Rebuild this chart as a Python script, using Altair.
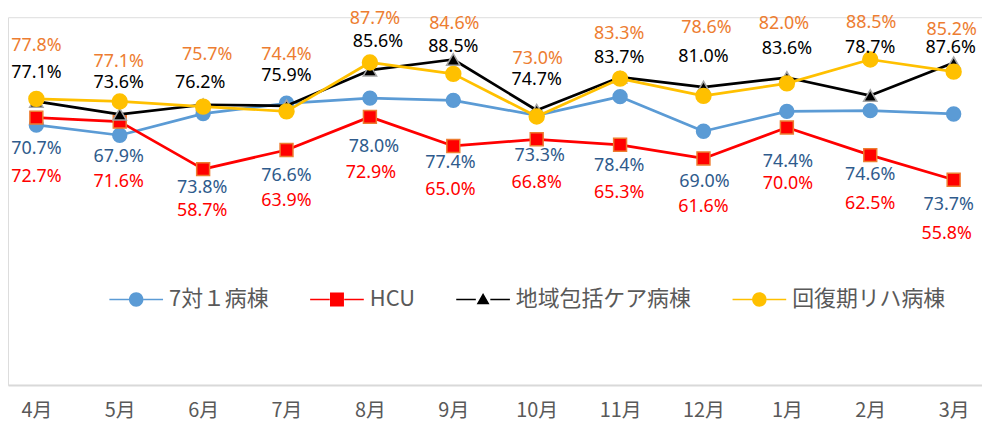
import json
import altair as alt
import pandas as pd

months = ["4月", "5月", "6月", "7月", "8月", "9月", "10月", "11月", "12月", "1月", "2月", "3月"]
series = ["7対１病棟", "HCU", "地域包括ケア病棟", "回復期リハ病棟"]

v_7to1 = [70.7, 67.9, 73.8, 76.6, 78.0, 77.4, 73.3, 78.4, 69.0, 74.4, 74.6, 73.7]
v_hcu = [72.7, 71.6, 58.7, 63.9, 72.9, 65.0, 66.8, 65.3, 61.6, 70.0, 62.5, 55.8]
v_chiiki = [77.1, 73.6, 76.2, 75.9, 85.6, 88.5, 74.7, 83.7, 81.0, 83.6, 78.7, 87.6]
v_kaifuku = [77.8, 77.1, 75.7, 74.4, 87.7, 84.6, 73.0, 83.3, 78.6, 82.0, 88.5, 85.2]
values = [v_7to1, v_hcu, v_chiiki, v_kaifuku]

# data-label offsets from each marker (pixels), as placed in the original
dy_7to1 = [24, 22, 75, 73, 49, 63, 41, 70, 51, 51, 65, 92]
dx_7to1 = [0, -1, -1, 0, 4, -3, 3, -1, 1, 1, 0, -5]
dy_hcu = [60, 61, 42, 51, 56, 44, 44, 48, 49, 57, 49, 55]
dx_hcu = [0, -1, -1, 0, 1, -3, 0, -1, 0, 1, 0, -7]
dy_chiiki = [-29, -31, -22, -30, -28, -13, -30, -19, -30, -29, -48, -15]
dx_chiiki = [0, -1, -3, 0, 8, 0, 0, -1, 0, 0, 0, -3]
dy_kaifuku = [-53, -40, -52, -57, -44, -50, -58, -45, -68, -60, -37, -42]
dx_kaifuku = [0, -1, 4, 0, 5, 1, 1, -1, 3, -3, 1, -2]
dys = [dy_7to1, dy_hcu, dy_chiiki, dy_kaifuku]
dxs = [dx_7to1, dx_hcu, dx_chiiki, dx_kaifuku]

line_colors = ["#5B9BD5", "#FF0000", "#000000", "#FFC000"]
label_colors = ["#2F5B8C", "#FF0000", "#000000", "#ED7D31"]
marker_shapes = ["circle", "square", "triangle-up", "circle"]
marker_sizes = [196, 169, 180, 225]
marker_strokes = ["#5B9BD5", "#ED7D31", "#A5A5A5", "#FFC000"]

# legend symbols: line segment plus marker
seg = "M-1,-0.03 L-0.27,-0.03 L-0.27,0.03 L-1,0.03 Z M0.27,-0.03 L1,-0.03 L1,0.03 L0.27,0.03 Z "
legend_paths = [
    seg + "M0.27,0 A0.27,0.27 0 1,1 -0.27,0 A0.27,0.27 0 1,1 0.27,0 Z",
    seg + "M-0.26,-0.26 L0.26,-0.26 L0.26,0.26 L-0.26,0.26 Z",
    seg + "M0,-0.24 L0.24,0.18 L-0.24,0.18 Z",
    seg + "M0.27,0 A0.27,0.27 0 1,1 -0.27,0 A0.27,0.27 0 1,1 0.27,0 Z",
]

W, H = 980, 370
X_DOMAIN = [-0.34, 11.34]
Y_DOMAIN = [0, 100]
px_per_x = W / (X_DOMAIN[1] - X_DOMAIN[0])
px_per_y = H / (Y_DOMAIN[1] - Y_DOMAIN[0])

rows = []
for s, vals, dy, dx in zip(series, values, dys, dxs):
    for i, (m, v, oy, ox) in enumerate(zip(months, vals, dy, dx)):
        rows.append({"series": s, "month": m, "idx": i, "value": v, "dy": oy, "dx": ox})
df = pd.DataFrame(rows)

font_jp = "Noto Sans CJK JP"

x_axis = alt.Axis(
    title=None, values=list(range(len(months))), labelAngle=0, ticks=False, grid=False,
    labelExpr=json.dumps(months, ensure_ascii=False) + "[datum.value]",
    labelFont=font_jp, labelFontSize=20, labelColor="#595959",
    labelPadding=16, domainColor="#D9D9D9", domainWidth=2,
)
x_scale = alt.Scale(domain=X_DOMAIN, nice=False, zero=False)
y_scale = alt.Scale(domain=Y_DOMAIN, nice=False)

x_enc = alt.X("idx:Q", scale=x_scale, axis=x_axis)
y_enc = alt.Y("value:Q", scale=y_scale, axis=None)

base = alt.Chart(df)
layers = []
for i, s in enumerate(series):
    sub = base.transform_filter(alt.datum.series == s)
    layers.append(
        sub.mark_line(color=line_colors[i], strokeWidth=2.75, strokeJoin="round", strokeCap="round")
        .encode(x=x_enc, y=y_enc)
    )
    layers.append(
        sub.mark_point(
            shape=marker_shapes[i], size=marker_sizes[i], filled=True,
            fill=line_colors[i], stroke=marker_strokes[i], strokeWidth=1.5, opacity=1,
        ).encode(x=x_enc, y=y_enc)
    )

for i, s in enumerate(series):
    sub = base.transform_filter(alt.datum.series == s).transform_calculate(
        label="format(datum.value, '.1f') + '%'",
        lx=f"datum.idx + datum.dx / {px_per_x}",
        ly=f"datum.value - datum.dy / {px_per_y}",
    )
    layers.append(
        sub.mark_text(font="Noto Sans", fontSize=18, color=label_colors[i], baseline="middle", align="center")
        .encode(
            x=alt.X("lx:Q", scale=x_scale, axis=x_axis),
            y=alt.Y("ly:Q", scale=y_scale, axis=None),
            text="label:N",
        )
    )

legend_df = pd.DataFrame({"series": series})
leg_props = dict(
    title=None, orient="none", legendX=102, legendY=257, direction="horizontal", columns=4,
    symbolSize=2916, symbolOpacity=1, symbolStrokeWidth=0, labelFont=font_jp,
    labelFontSize=22, labelColor="#595959", labelOffset=6, columnPadding=41, padding=0,
    labelLimit=0,
)
legend_layer = alt.Chart(legend_df).mark_point(filled=True, opacity=0).encode(
    color=alt.Color("series:N", sort=series, scale=alt.Scale(domain=series, range=line_colors), legend=alt.Legend(**leg_props)),
    shape=alt.Shape("series:N", sort=series, scale=alt.Scale(domain=series, range=legend_paths), legend=alt.Legend(**leg_props)),
)
layers.append(legend_layer)

chart = alt.layer(*layers).properties(
    width=W, height=H, autosize="none",
    padding={"top": 8, "left": 0, "right": 0, "bottom": 37},
).configure_view(stroke=None).configure(background="white")

chart.save("out.html", embed_options={"renderer": "svg", "actions": False})
